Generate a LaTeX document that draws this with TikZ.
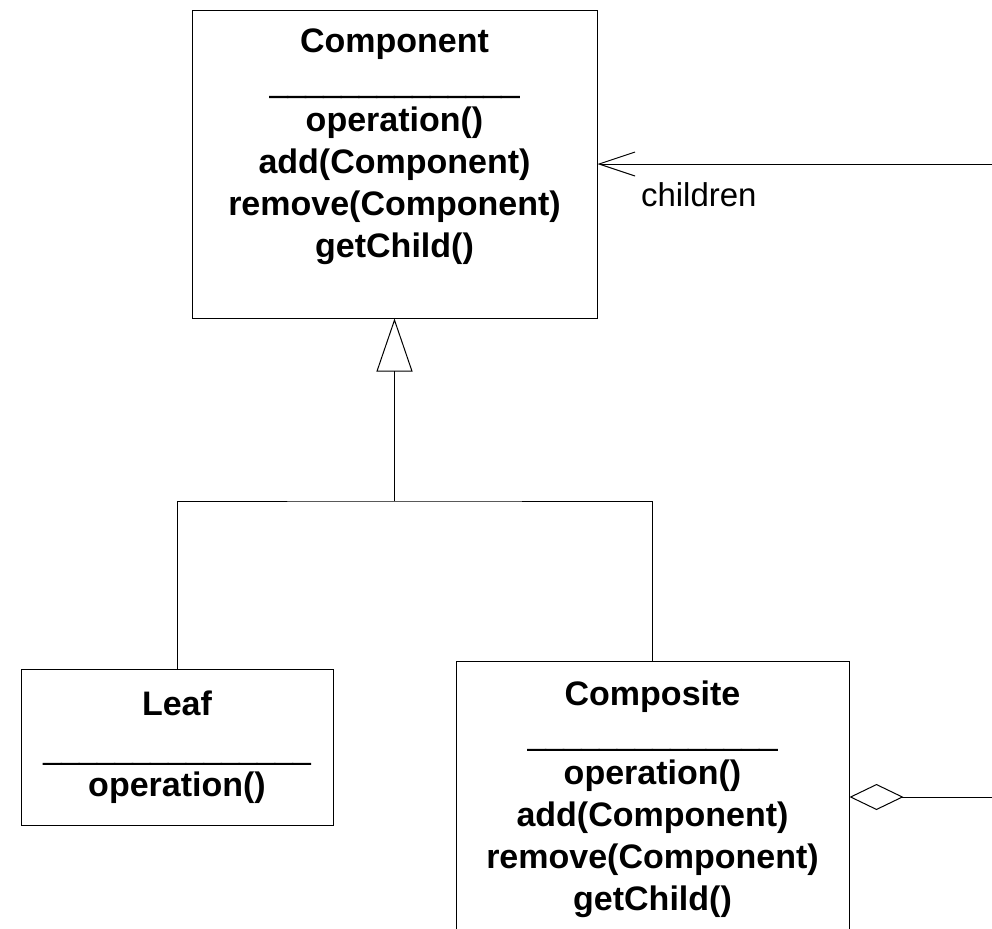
\documentclass[tikz,border=0pt]{standalone}
\usepackage{fontspec}
\setmainfont{Liberation Sans}
\newfontfamily\sepfont[FakeBold=3]{Liberation Sans}
\usetikzlibrary{positioning,arrows.meta}
\tikzset{
  classbox/.style = {draw, rectangle, inner sep=0pt, line width=0.5pt},
  members/.style  = {font=\bfseries\fontsize{17}{21}\selectfont, align=center, inner sep=0pt},
  relation/.style = {line width=0.5pt}
}
\newcommand{\sepline}{{\sepfont\bfseries\fontsize{16}{21}\selectfont\_\_\_\_\_\_\_\_\_\_\_\_\_\_}}

\begin{document}
\begin{tikzpicture}[x=0.5pt,y=-0.5pt]
  \useasboundingbox (0,0) rectangle (992,928);
  % classes
  \node[classbox, minimum width=202.5pt, minimum height=154pt] (component) at (394.5,164) {};
  \node[classbox, minimum width=156pt, minimum height=78pt] (leaf) at (177,747) {};
  \node[classbox, minimum width=196.5pt, minimum height=136pt] (composite) at (652.5,797) {};
  \node[members, below=9.5pt of component.north] (componenttext)
    {Component\\[-0.5pt]\sepline\\[-2pt]operation()\\add(Component)\\remove(Component)\\getChild()};
  \node[members, below=11pt of leaf.north] (leaftext)
    {Leaf\\[1.5pt]{\sepline\sepfont\bfseries\fontsize{16}{21}\selectfont\_}\\[-3pt]operation()};
  \node[members, below=10pt of composite.north] (compositetext)
    {Composite\\[-0.5pt]\sepline\\[-2pt]operation()\\add(Component)\\remove(Component)\\getChild()};
  % relations
  \coordinate (branch) at (394.5,501);
  \coordinate (childend) at (992,164);
  \coordinate (aggend) at (992,797);
  \draw[relation] (leaf.north) |- (branch) -| (composite.north);
  \draw[relation,-{Triangle[open,length=26.5pt,width=18pt]}] (branch) -- (component.south);
  \draw[relation,-{Straight Barb[length=18pt,width=12pt]}] (childend) -- (component.east)
    node[at end, anchor=north west, xshift=21.5pt, yshift=-9pt, inner sep=0pt,
         font=\fontsize{16.5}{20}\selectfont] (childrenlabel) {children};
  \draw[relation,{Diamond[open,length=27pt,width=13pt]}-] (composite.east) -- (aggend);
\end{tikzpicture}
\end{document}
